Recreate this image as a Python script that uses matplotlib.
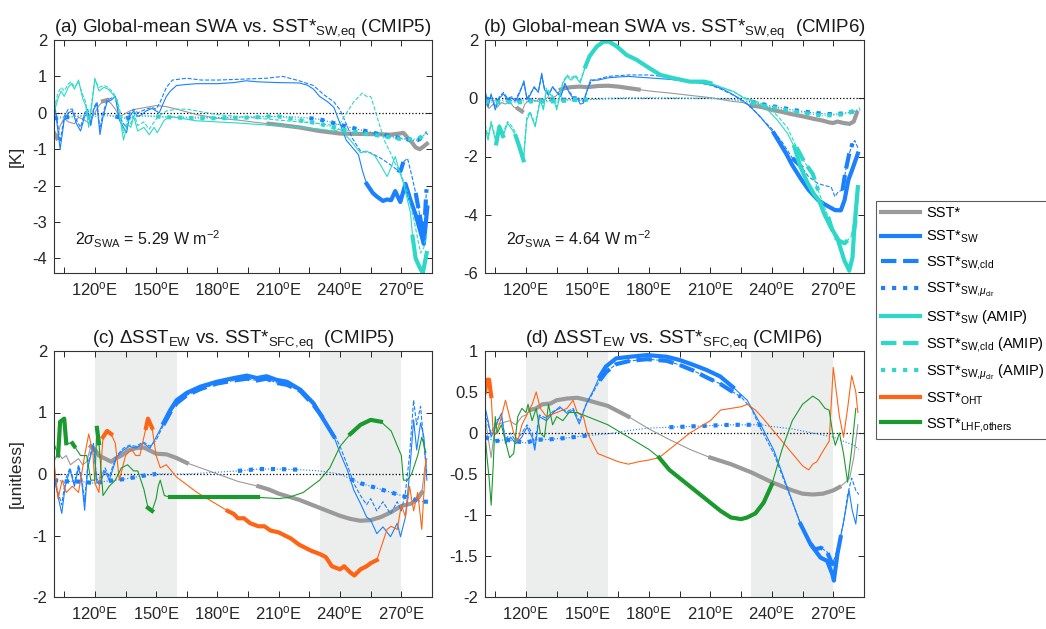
import numpy as np
import matplotlib
matplotlib.use('Agg')
import matplotlib.pyplot as plt
from matplotlib.lines import Line2D

plt.rcParams['font.family'] = ['Liberation Sans', 'DejaVu Sans']
plt.rcParams['mathtext.fontset'] = 'custom'
plt.rcParams['mathtext.rm'] = 'Liberation Sans'
plt.rcParams['mathtext.it'] = 'Liberation Sans:italic'
plt.rcParams['mathtext.default'] = 'regular'

# ---------------- data (lon [deg E], value) ----------------
# panel (a): global-mean SWA regression, CMIP5  [K]
A_SST = [(100,-0.55),(101.5,-0.7),(103,-0.35),(105,-0.15),(107,-0.25),(110,-0.3),(112,-0.12),(115,-0.2),
         (117,-0.28),(120,0.0),(122,0.2),(124,0.32),(126,0.35),(128,0.25),(130,0.1),(132,-0.1),(134,-0.05),
         (137,0.05),(140,0.1),(145,0.15),(150,0.2),(155,0.17),(160,0.1),(170,-0.05),(180,-0.15),(190,-0.2),
         (200,-0.27),(205,-0.3),(210,-0.33),(220,-0.4),(230,-0.5),(240,-0.57),(250,-0.58),(260,-0.59),
         (265,-0.6),(269,-0.57),(271,-0.55),(273,-0.68),(275,-0.8),(277,-0.95),(279,-1.0),(281,-0.92),(282.5,-0.85)]
A_SW = [(100,0.4),(101.5,-0.3),(103,-1.0),(105,-0.2),(107,0.0),(109,0.05),(111,-0.3),(113,-0.5),(115,-0.1),
        (116.5,0.0),(118,-0.35),(119.5,0.1),(121,0.25),(122.5,-0.6),(124,-0.1),(126,0.3),(128,0.35),(130,0.45),
        (132,-0.2),(134,-0.4),(135.5,-0.55),(137,-0.1),(139,0.05),(141,-0.1),(143,-0.05),(145,0.05),(148,0.12),
        (150,0.05),(151.5,0.0),(153,0.2),(155,0.45),(157,0.6),(160,0.75),(165,0.78),(170,0.8),(180,0.8),
        (188,0.83),(194,0.88),(200,0.85),(210,0.83),(220,0.82),(224,0.76),(227,0.65),(230,0.45),(234,0.3),
        (237,0.15),(240,-0.3),(243,-0.75),(246,-0.95),(249,-1.15),(251,-1.6),(253,-1.95),(256,-2.2),(258,-2.3),
        (261,-2.42),(263,-2.38),(265,-2.4),(267,-2.15),(269.5,-2.45),(272,-1.95),(274.5,-2.4),(277,-2.8),
        (279.5,-3.3),(281,-3.6),(282.7,-2.6)]
A_CLD = [(100,0.3),(101.5,-0.2),(103,-0.8),(105,-0.1),(107,0.1),(109,0.1),(111,-0.2),(113,-0.4),(115,0.0),
         (116.5,0.1),(118,-0.25),(119.5,0.15),(121,0.3),(122.5,-0.45),(124,0.0),(126,0.35),(128,0.4),(130,0.45),
         (132,-0.1),(134,-0.3),(135.5,-0.4),(137,0.0),(139,0.1),(141,0.0),(143,0.05),(145,0.1),(148,0.15),
         (150,0.1),(152,0.3),(155,0.7),(158,0.9),(165,0.95),(172,0.9),(180,0.9),(190,0.92),(204,0.95),(212,1.0),
         (220,0.88),(227,0.75),(232,0.5),(237,0.3),(240,0.08),(243,-0.3),(246,-0.7),(250,-1.05),(255,-1.1),
         (260,-1.25),(264,-1.4),(268,-1.57),(269.6,-1.6),(271,-1.35),(273,-1.25),(275,-1.7),(277,-2.2),
         (279.4,-2.94),(281,-3.4),(282.3,-2.1)]
A_CLR = [(100,-0.15),(105,-0.13),(110,-0.1),(115,-0.08),(120,-0.05),(125,-0.05),(130,-0.1),(135,-0.15),
         (140,-0.1),(145,-0.08),(150,-0.1),(160,-0.12),(170,-0.12),(180,-0.13),(190,-0.12),(200,-0.1),
         (210,-0.1),(220,-0.12),(225,-0.15),(230,-0.18),(235,-0.25),(240,-0.33),(245,-0.4),(250,-0.47),
         (255,-0.53),(260,-0.6),(265,-0.65),(270,-0.7),(275,-0.75),(278,-0.75),(280,-0.68),(282.5,-0.55)]
A_SW_AMIP = [(100,0.0),(102,0.4),(103.5,0.6),(105,0.45),(107,0.7),(108.5,0.8),(110,0.65),(112,0.9),(114,0.4),
             (115.5,0.2),(117,-0.4),(118.5,0.2),(120,0.95),(122,0.6),(124.5,0.7),(126.5,0.65),(129,0.5),
             (131,0.3),(132.5,-0.2),(134,-0.75),(136,-0.3),(137.6,-0.4),(139,-0.1),(141,-0.5),(144,-0.4),
             (146.6,-0.6),(149,-0.4),(150.5,-0.55),(152,-0.4),(154,-0.2),(157,-0.1),(162,-0.15),(170,-0.22),
             (180,-0.25),(190,-0.28),(200,-0.32),(210,-0.35),(220,-0.4),(230,-0.45),(237,-0.5),(240,-0.45),
             (245,-0.75),(250,-1.1),(253,-1.05),(257,-1.18),(260,-1.45),(263,-1.75),(265,-1.5),(267,-1.2),
             (269,-1.6),(271,-1.93),(273,-2.4),(274.5,-2.75),(275.5,-3.4),(277,-4.0),(279,-4.25),(280.5,-4.4),
             (282.4,-3.85)]
A_CLD_AMIP = [(100,0.1),(102,0.55),(103.5,0.7),(105,0.6),(107,0.8),(108.5,0.85),(110,0.7),(112,0.85),(114,0.5),
              (115.5,0.3),(117,-0.2),(118.5,0.3),(120,0.9),(122,0.7),(124.5,0.75),(126.5,0.7),(129,0.55),
              (131,0.35),(132.5,0.0),(134,-0.55),(136,-0.2),(137.6,-0.3),(139,0.0),(141,-0.35),(144,-0.25),
              (146.6,-0.45),(149,-0.25),(151,-0.1),(155,0.05),(160,0.1),(165,0.1),(170,0.05),(180,-0.05),
              (190,-0.1),(200,-0.15),(210,-0.2),(220,-0.25),(230,-0.3),(237,-0.35),(240,-0.3),(242,-0.1),
              (246.7,0.3),(250.8,0.54),(253,0.45),(255,0.45),(257,0.1),(259,-0.28),(262,-0.8),(264.7,-1.1),
              (267,-1.4),(270,-1.7),(273,-2.2),(276,-2.9),(279.4,-3.85),(281,-3.7),(282.5,-3.3)]
A_CLR_AMIP = [(100,-0.1),(105,-0.12),(110,-0.1),(115,-0.08),(120,-0.1),(125,-0.08),(130,-0.1),(135,-0.12),
              (140,-0.1),(145,-0.1),(150,-0.1),(155,-0.12),(160,-0.13),(170,-0.15),(180,-0.15),(190,-0.14),
              (200,-0.12),(205,-0.1),(210,-0.1),(215,-0.15),(220,-0.2),(225,-0.25),(230,-0.3),(235,-0.38),
              (240,-0.45),(245,-0.5),(250,-0.55),(255,-0.6),(260,-0.63),(265,-0.68),(270,-0.72),(275,-0.73),
              (278,-0.72),(280,-0.65),(282.5,-0.5)]

# panel (b): global-mean SWA regression, CMIP6  [K]
B_SST = [(100,-0.15),(102,-0.35),(104,-0.2),(106,-0.3),(108,-0.15),(110,-0.2),(112,-0.1),(114,-0.3),(116,-0.35),
         (118,-0.45),(119.5,-0.2),(121,-0.1),(123,-0.05),(125,-0.1),(127,0.0),(129,-0.05),(131,0.05),(133,0.0),
         (135,0.1),(137,0.3),(139,0.35),(142,0.38),(146,0.4),(150,0.38),(155,0.42),(160,0.43),(165,0.4),
         (170,0.35),(175,0.3),(180,0.25),(190,0.18),(200,0.1),(210,0.02),(220,-0.1),(226,-0.15),(230,-0.25),
         (235,-0.3),(240,-0.4),(245,-0.47),(250,-0.55),(255,-0.62),(260,-0.7),(265,-0.77),(268,-0.83),
         (270,-0.85),(272,-0.8),(275,-0.85),(278,-0.88),(280,-0.8),(281.5,-0.5)]
B_SW = [(100,0.3),(101.5,-0.3),(103,0.15),(105,-0.4),(107,0.0),(109,0.15),(111,-0.05),(113,0.0),(115,-0.1),
        (117,0.2),(119,0.6),(120.5,-0.05),(122,0.1),(124,0.4),(126,0.2),(127.7,0.86),(129,0.3),(131,0.1),
        (133,0.4),(135,0.2),(137,0.05),(139,0.52),(141,0.2),(143,0.0),(145,0.0),(146.5,-0.2),(148,-0.17),
        (150,0.3),(151.5,0.63),(155,0.62),(160,0.7),(165,0.73),(170,0.75),(180,0.7),(190,0.65),(200,0.57),
        (210,0.47),(215,0.35),(220,0.17),(224,0.0),(228,-0.2),(231,-0.4),(234.6,-0.65),(238,-0.95),(241,-1.2),
        (244,-1.55),(247,-1.9),(250,-2.3),(254.5,-2.8),(258,-3.15),(262.6,-3.5),(266,-3.65),(270.8,-3.84),
        (273.7,-3.85),(275.5,-3.5),(277.4,-2.8),(279,-2.5),(280.5,-2.2),(282,-1.9)]
B_CLD = [(100,0.2),(101.5,-0.2),(103,0.1),(105,-0.3),(107,0.05),(109,0.2),(111,0.0),(113,0.05),(115,-0.05),
         (117,0.25),(119,0.5),(120.5,0.0),(122,0.15),(124,0.35),(126,0.25),(127.7,0.75),(129,0.35),(131,0.15),
         (133,0.35),(135,0.25),(137,0.1),(139,0.45),(141,0.25),(143,0.05),(145,0.05),(146.5,-0.1),(148,-0.1),
         (150,0.3),(152,0.6),(155,0.65),(160,0.75),(170,0.8),(180,0.8),(190,0.72),(200,0.6),(210,0.45),
         (215,0.32),(220,0.15),(225,-0.05),(230,-0.3),(235,-0.7),(240,-1.05),(245,-1.5),(250,-2.05),(255,-2.4),
         (258,-2.7),(262.6,-2.93),(266,-3.0),(269,-3.05),(270.8,-3.38),(272.5,-3.2),(274.5,-3.16),(276,-2.5),
         (277.8,-1.9),(279.4,-1.55),(280.5,-1.45),(282,-1.7)]
B_CLR = [(100,0.0),(105,-0.1),(110,-0.05),(115,-0.1),(120,-0.05),(125,-0.1),(130,-0.08),(135,-0.05),(140,-0.05),
         (145,-0.05),(150,-0.05),(160,-0.02),(170,0.0),(180,0.0),(190,0.0),(200,0.0),(210,0.0),(220,-0.03),
         (225,-0.08),(230,-0.12),(235,-0.2),(240,-0.27),(245,-0.33),(250,-0.4),(255,-0.45),(260,-0.5),
         (265,-0.53),(270,-0.55),(275,-0.52),(280,-0.45),(283,-0.4)]
B_SW_AMIP = [(100,-1.0),(101.5,-1.44),(103,-0.86),(105.5,-1.55),(107,-0.98),(108.8,-1.3),(111,-0.86),
             (113.5,-1.1),(115,-1.3),(116.8,-1.67),(118.8,-2.13),(120.4,-0.75),(122,-0.5),(124.5,-0.98),
             (127,-0.06),(128.5,-0.4),(130,0.29),(133.4,0.0),(135,-0.4),(138,0.52),(140,0.75),(142,0.62),
             (144,0.75),(146.5,0.52),(149,1.09),(151,1.44),(154.6,1.78),(158,1.95),(160.4,1.95),(164.4,1.78),
             (169,1.49),(174,1.32),(179,1.09),(185.6,0.8),(192,0.69),(200,0.57),(207,0.57),(210,0.52),
             (216.6,0.34),(221.5,0.23),(226.4,0.0),(233,-0.17),(238,-0.4),(242.7,-0.75),(247.6,-1.2),(251,-1.67),
             (254,-2.36),(257.4,-2.9),(260.7,-3.3),(263,-3.5),(265.6,-3.97),(268.8,-4.43),(272,-4.8),
             (275.4,-5.57),(277.8,-5.92),(279.4,-5.46),(280.3,-4.43),(282,-3.05)]
B_CLD_AMIP = [(100,-0.9),(101.5,-1.3),(103,-0.8),(105.5,-1.45),(107,-0.9),(108.8,-1.2),(111,-0.8),(113.5,-1.0),
              (115,-1.2),(116.8,-1.55),(118.8,-2.0),(120.4,-0.65),(122,-0.45),(124.5,-0.9),(127,0.0),
              (128.5,-0.3),(130,0.35),(133.4,0.05),(135,-0.3),(138,0.55),(140,0.8),(142,0.68),(144,0.8),
              (146.5,0.6),(149,1.1),(151,1.4),(154.6,1.72),(158,1.9),(160.4,1.9),(164.4,1.72),(169,1.45),
              (174,1.28),(179,1.05),(185.6,0.8),(192,0.7),(200,0.58),(207,0.55),(210,0.5),(216.6,0.35),
              (221.5,0.22),(226.4,0.02),(233,-0.12),(238,-0.3),(242.7,-0.6),(247.6,-1.0),(252,-1.68),(256,-2.2),
              (260,-2.6),(262.6,-3.16),(265,-3.6),(267.5,-4.07),(270.6,-4.76),(273,-4.9),(275.6,-4.98),
              (278,-4.8),(279.8,-4.65),(281.5,-3.96),(282.5,-3.0)]
B_CLR_AMIP = [(100,-0.1),(105,-0.15),(110,-0.12),(115,-0.15),(120,-0.12),(125,-0.1),(130,-0.12),(135,-0.1),
              (140,-0.08),(145,-0.05),(150,-0.05),(160,0.0),(170,0.02),(180,0.02),(190,0.02),(200,0.0),
              (210,0.0),(220,-0.05),(225,-0.1),(230,-0.15),(235,-0.25),(240,-0.3),(245,-0.38),(250,-0.45),
              (255,-0.5),(260,-0.55),(265,-0.6),(270,-0.58),(275,-0.55),(280,-0.45),(283,-0.35)]

# panel (c): Delta SST_EW regression, CMIP5  [unitless]
C_SST = [(100,0.2),(102,0.35),(104,0.25),(106,0.3),(108,0.15),(110,0.2),(112,0.25),(114,0.15),(116,0.2),
         (118,0.45),(120,0.4),(122,0.3),(125,0.25),(128,0.2),(130,0.25),(133,0.3),(136,0.38),(140,0.42),
         (144,0.43),(147,0.38),(150,0.33),(155,0.32),(160,0.26),(165,0.18),(170,0.12),(180,0.0),(190,-0.12),
         (200,-0.2),(205,-0.25),(210,-0.32),(220,-0.42),(230,-0.55),(240,-0.68),(245,-0.73),(250,-0.76),
         (255,-0.75),(260,-0.7),(265,-0.62),(270,-0.52),(275,-0.48),(278,-0.4),(280,-0.3),(281.5,0.1),(282.5,0.25)]
C_SW = [(100,-0.04),(102,-0.37),(103.8,-0.64),(105.5,-0.2),(107.8,0.07),(110,-0.2),(112,0.1),(113.5,-0.1),
        (115,-0.59),(116.5,0.1),(118,0.3),(119.3,0.5),(121,-0.15),(123,-0.1),(125,0.05),(127,-0.1),(129,0.1),
        (130.7,0.28),(134,0.39),(137,0.45),(140,0.42),(143.8,0.5),(147,0.42),(150,0.6),(153.6,0.83),
        (156.9,1.04),(160,1.2),(165,1.32),(171.6,1.42),(179.7,1.5),(188,1.56),(194.4,1.6),(199.3,1.56),
        (204,1.59),(209,1.53),(214,1.5),(220.6,1.37),(227,1.15),(232,0.88),(237,0.61),(240,0.34),(243.5,0.07),
        (246.7,-0.26),(250,-0.48),(253,-0.7),(255,-0.75),(258,-0.97),(261,-0.86),(264.7,-1.02),(268,-0.8),
        (269.6,-1.02),(272,-0.7),(274,0.0),(276,0.88),(277.5,0.39),(279.4,0.83),(281,0.61),(282.5,-0.1)]
C_CLD = [(100,-0.1),(102,-0.3),(103.8,-0.5),(105.5,-0.1),(107.8,0.1),(110,-0.15),(112,0.15),(113.5,-0.05),
         (115,-0.45),(116.5,0.15),(118,0.35),(119.3,0.45),(121,-0.1),(123,-0.05),(125,0.1),(127,-0.05),(129,0.15),
         (130.7,0.3),(134,0.42),(137,0.47),(140,0.45),(143.8,0.52),(147,0.45),(150,0.55),(153.6,0.8),
         (156.9,1.0),(160,1.15),(165,1.28),(171.6,1.38),(179.7,1.47),(188,1.52),(194.4,1.55),(199.3,1.52),
         (204,1.55),(209,1.48),(214,1.45),(220.6,1.35),(227,1.12),(232,0.9),(237,0.65),(240,0.45),(243.5,0.15),
         (246.7,-0.15),(250,-0.35),(253,-0.5),(255,-0.4),(258,-0.6),(261,-0.45),(264.7,-0.65),(268,-0.45),
         (270,-0.6),(272,-0.3),(274,0.3),(276,1.2),(277.5,0.8),(279.4,1.1),(281,0.5),(282.5,0.0)]
C_CLR = [(100,-0.1),(105,-0.12),(110,-0.12),(115,-0.13),(120,-0.15),(125,-0.12),(130,-0.1),(135,-0.08),
         (140,-0.05),(145,-0.02),(150,0.0),(165,0.0),(180,0.03),(190,0.05),(200,0.08),(210,0.08),(220,0.07),
         (230,0.05),(240,0.0),(245,-0.08),(250,-0.15),(260,-0.25),(270,-0.35),(280,-0.45),(283,-0.45)]
C_OHT = [(100,0.2),(102,-0.4),(104,-0.1),(106,-0.3),(109,-0.2),(112,-0.3),(115,0.3),(117,0.65),(119,0.35),
         (120,-0.15),(122,-0.3),(124,0.6),(126,0.7),(128,0.65),(130,0.5),(132,-0.1),(135,0.3),(138,0.4),
         (140,0.3),(142,0.3),(145,0.75),(146,0.9),(148,0.75),(150,0.3),(152,0.1),(155,0.15),(160,-0.05),
         (170,-0.3),(180,-0.5),(185,-0.6),(188,-0.65),(190,-0.72),(193,-0.72),(196,-0.8),(200,-0.85),(203,-0.85),
         (206,-0.92),(210,-0.95),(213,-1.0),(216,-1.05),(220,-1.15),(223,-1.2),(226,-1.25),(230,-1.3),
         (233,-1.35),(236,-1.5),(240,-1.55),(242,-1.5),(245,-1.6),(247,-1.65),(250,-1.55),(253,-1.5),
         (255,-1.45),(258,-1.4),(260,-1.2),(263,-0.9),(265,-0.85),(268,-0.9),(270,-0.5),(272,-0.7),(274,-0.2),
         (276,-0.6),(278,-0.3),(280,-0.9),(282,0.25)]
C_LHF = [(100,0.5),(102,0.3),(103,0.85),(105,0.9),(106,0.5),(109,0.5),(110,0.45),(113,0.3),(116,0.3),(118,-0.1),
         (120,-0.1),(121,0.75),(122,0.5),(124,-0.35),(127,-0.2),(130,-0.1),(133,0.1),(136,0.15),(139,0.05),
         (141,0.05),(144,-0.25),(146,-0.55),(148,-0.6),(150,-0.4),(151,-0.2),(152,-0.1),(154,-0.35),(157,-0.38),
         (165,-0.38),(180,-0.38),(200,-0.38),(210,-0.4),(215,-0.38),(222,-0.3),(230,-0.1),(235,0.1),(240,0.45),
         (245,0.65),(250,0.8),(255,0.88),(260,0.85),(265,0.7),(270,0.3),(271,-0.1),(273,-0.1),(275,0.0),
         (278,0.3),(280,0.6),(282,0.35)]

# panel (d): Delta SST_EW regression, CMIP6  [unitless]
D_SST = [(100,0.2),(103,-0.3),(105,0.1),(108,0.12),(112,0.15),(115,0.1),(118,0.2),(120,0.22),(122,0.28),
         (125,0.3),(128,0.35),(132,0.36),(135,0.4),(140,0.42),(145,0.43),(150,0.4),(160,0.33),(170,0.2),
         (180,0.05),(190,-0.08),(200,-0.2),(210,-0.3),(220,-0.38),(230,-0.48),(240,-0.6),(250,-0.7),
         (255,-0.74),(260,-0.75),(265,-0.74),(270,-0.7),(273,-0.66),(276,-0.6),(278,-0.55),(280,-0.3),(282,0.1)]
D_SW = [(100,0.32),(101.5,0.15),(103,-0.05),(105.5,0.1),(108,0.24),(110,-0.13),(112.5,-0.05),(115,-0.13),
        (118,-0.05),(120.5,0.07),(123,-0.05),(124.3,-0.21),(126.5,0.2),(130,0.15),(133,0.24),(136.5,0.32),
        (140,0.24),(143,0.28),(146,0.11),(149.5,0.36),(152.9,0.52),(156,0.69),(159,0.81),(164,0.91),
        (170.8,0.93),(179,0.95),(188.7,0.93),(195,0.89),(201.8,0.83),(208,0.77),(214.8,0.69),(221,0.56),
        (228,0.4),(234.4,0.11),(241,-0.21),(247.5,-0.66),(254,-1.11),(259,-1.36),(263.8,-1.52),(267,-1.56),
        (269.5,-1.72),(270.3,-1.8),(272,-1.48),(273.6,-1.27),(276,-0.95),(277.7,-0.7),(279.3,-0.95),
        (281,-1.11),(282,-0.87)]
D_CLD = [(100,0.25),(101.5,0.1),(103,0.0),(105.5,0.15),(108,0.2),(110,-0.08),(112.5,0.0),(115,-0.1),(118,0.0),
         (120.5,0.1),(123,0.0),(124.3,-0.15),(126.5,0.22),(130,0.18),(133,0.26),(136.5,0.3),(140,0.26),
         (143,0.3),(146,0.15),(149.5,0.35),(152.9,0.5),(156,0.64),(159,0.74),(164,0.84),(170.8,0.88),(179,0.9),
         (188.7,0.88),(195,0.83),(201.8,0.76),(208,0.68),(214.8,0.6),(221,0.5),(225,0.44),(230,0.3),(234.4,0.06),
         (241,-0.25),(247.5,-0.68),(254,-1.1),(259,-1.35),(261,-1.42),(264,-1.4),(267,-1.45),(269.5,-1.6),
         (271,-1.5),(273,-1.3),(275,-1.1),(277,-0.75),(279,-0.55),(281,-0.7),(282.5,-0.75)]
D_CLR = [(100,-0.05),(105,-0.1),(110,-0.08),(115,-0.1),(120,-0.12),(125,-0.08),(130,-0.08),(140,-0.06),
         (150,-0.03),(160,-0.01),(170,0.03),(180,0.06),(190,0.07),(200,0.08),(210,0.09),(220,0.1),(230,0.1),
         (235,0.1),(240,0.08),(250,0.05),(260,0.0),(270,-0.05),(275,-0.1),(280,-0.15),(282.5,-0.2)]
D_OHT = [(100,0.5),(101,0.65),(102,0.65),(103,0.45),(104,0.0),(105,-0.02),(107,0.1),(110,0.4),(112,0.2),
         (114,0.0),(116,-0.1),(118,0.1),(120,0.2),(123,0.35),(125,0.5),(127,0.3),(130,0.2),(135,0.25),(140,0.3),
         (143,0.4),(145,0.25),(148,0.2),(150,0.0),(155,-0.25),(160,-0.3),(165,-0.35),(170,-0.38),(175,-0.35),
         (180,-0.33),(185,-0.3),(190,-0.2),(200,0.0),(210,0.15),(215,0.28),(220,0.3),(225,0.32),(228,0.35),
         (232,0.28),(235,0.2),(240,0.05),(245,-0.1),(250,-0.25),(255,-0.4),(258,-0.45),(260,-0.38),(262,-0.35),
         (265,-0.22),(268,-0.1),(270,0.8),(271,0.6),(273,0.2),(275,-0.05),(277,0.3),(279,0.7),(281,0.5),(282,0.25)]
D_LHF = [(100,0.0),(101,-0.3),(102,-0.55),(103,-0.88),(104,-0.4),(105,0.2),(106,0.0),(108,0.1),(110,-0.1),
         (112,-0.3),(114,-0.25),(116,0.2),(118,0.3),(120,0.25),(121,0.35),(123,0.15),(125,0.3),(127,0.0),
         (129,-0.05),(131,0.35),(133,0.1),(135,0.2),(138,0.15),(141,0.25),(145,0.25),(150,0.2),(155,0.15),
         (160,0.1),(170,-0.05),(180,-0.2),(185,-0.3),(190,-0.45),(200,-0.65),(210,-0.85),(215,-0.95),(220,-1.03),
         (225,-1.05),(228,-1.03),(232,-0.98),(236,-0.85),(240,-0.63),(245,-0.2),(250,0.15),(255,0.35),(260,0.45),
         (263,0.4),(266,0.3),(268,0.28),(270,-0.05),(271,-0.15),(273,0.0),(275,-0.25),(277,-0.6),(279,-0.2),(281,0.3)]

# longitude ranges where each regression is significant (drawn thick)
SIG = {
    'A_SST': [(100, 102), (123, 127), (205, 283)], 'A_SW': [(252, 283)], 'A_CLD': [(266, 271), (277, 282.3)],
    'A_CLR': [(100, 112), (130, 140), (225, 283)], 'A_SW_AMIP': [(275, 283)], 'A_CLD_AMIP': [],
    'A_CLR_AMIP': [(150, 283)],
    'B_SST': [(116, 119), (137, 175), (230, 282)], 'B_SW': [(240, 282)], 'B_CLD': [(250, 256), (274.5, 280)],
    'B_CLR': [(100, 150), (226, 283)], 'B_SW_AMIP': [(105, 109), (115, 119), (148, 215), (248, 283)],
    'B_CLD_AMIP': [(252, 264), (267, 281.5)], 'B_CLR_AMIP': [(100, 150), (226, 283)],
    'C_SST': [(118, 165), (200, 280)], 'C_SW': [(152, 238)], 'C_CLD': [(152, 236)],
    'C_CLR': [(100, 150), (190, 228), (245, 283)], 'C_OHT': [(124, 128), (145, 148), (185, 258)],
    'C_LHF': [(102, 106), (109, 110), (121, 122), (145, 149), (155, 202), (245, 262)],
    'D_SST': [(121, 170), (205, 275)], 'D_SW': [(156, 225), (250, 275)], 'D_CLD': [(156, 225), (259, 272)],
    'D_CLR': [(100, 150), (185, 238)], 'D_OHT': [(100, 103)], 'D_LHF': [(185, 240)],
}

SHADE = [(120, 160), (230, 270)]
SIGMA_SWA = ['5.29', '4.64']

GREY, BLUE, CYAN, ORANGE, GREEN = '#9a9a9a', '#1a80ff', '#2ed8c8', '#ff6414', '#1a9a2e'
THIN, THICK = 0.8, 3.0


def draw(ax, name, pts, color, ls):
    lon, val = np.array(pts).T
    ax.plot(lon, val, color=color, ls=ls, lw=THIN)
    for a, b in SIG[name]:
        m = (lon >= a) & (lon <= b)
        ax.plot(lon[m], val[m], color=color, ls=ls, lw=THICK)


def style(ax, ylim, yticks, ylabels):
    ax.set_xlim(100, 285)
    ax.set_ylim(*ylim)
    xt = np.arange(105, 285, 15)
    ax.set_xticks(xt)
    ax.set_xticklabels([r'%d$^{\rm o}$E' % t if t % 30 == 0 else '' for t in xt])
    ax.set_yticks(yticks)
    ax.set_yticklabels(ylabels)
    ax.tick_params(direction='in', top=True, right=True, length=4, width=0.7,
                   labelsize=12, colors='#262626', pad=5)
    for s in ax.spines.values():
        s.set_color('#333333')
        s.set_linewidth(0.8)
    ax.axhline(0, color='k', ls=':', lw=0.9, zorder=1)


fig = plt.figure(figsize=(10.46, 6.29), dpi=100)
W, H = 1046, 629
ax_a = fig.add_axes([54 / W, 1 - 273 / H, 378 / W, 233 / H])
ax_b = fig.add_axes([485 / W, 1 - 273 / H, 379 / W, 233 / H])
ax_c = fig.add_axes([54 / W, 1 - 597 / H, 378 / W, 246 / H])
ax_d = fig.add_axes([485 / W, 1 - 597 / H, 379 / W, 246 / H])

# top row
for ax, p, data, sig in [(ax_a, 'A', [A_SST, A_SW, A_CLD, A_CLR, A_SW_AMIP, A_CLD_AMIP, A_CLR_AMIP], SIGMA_SWA[0]),
                         (ax_b, 'B', [B_SST, B_SW, B_CLD, B_CLR, B_SW_AMIP, B_CLD_AMIP, B_CLR_AMIP], SIGMA_SWA[1])]:
    names = ['SST', 'SW', 'CLD', 'CLR', 'SW_AMIP', 'CLD_AMIP', 'CLR_AMIP']
    styles = [(GREY, '-'), (BLUE, '-'), (BLUE, '--'), (BLUE, ':'), (CYAN, '-'), (CYAN, '--'), (CYAN, ':')]
    for nm, d, (c, ls) in zip(names, data, styles):
        draw(ax, p + '_' + nm, d, c, ls)
    ax.text(0.055, 0.12, r'2$\it{\sigma}_{\rm SWA}$ = ' + sig + r' W m$^{-2}$', transform=ax.transAxes,
            fontsize=11.5, color='#1a1a1a')

style(ax_a, (-4.4, 2), np.arange(-4, 3, 1), ['-4', '-3', '-2', '-1', '0', '1', '2'])
style(ax_b, (-6, 2), np.arange(-6, 3, 2), ['-6', '-4', '-2', '0', '2'])
ax_a.set_ylabel('[K]', fontsize=12.5, color='#262626', labelpad=6)

# bottom row
for ax, p, data in [(ax_c, 'C', [C_SST, C_SW, C_CLD, C_CLR, C_OHT, C_LHF]),
                    (ax_d, 'D', [D_SST, D_SW, D_CLD, D_CLR, D_OHT, D_LHF])]:
    for a, b in SHADE:
        ax.axvspan(a, b, color='#eceeed', lw=0, zorder=0)
    names = ['SST', 'SW', 'CLD', 'CLR', 'OHT', 'LHF']
    styles = [(GREY, '-'), (BLUE, '-'), (BLUE, '--'), (BLUE, ':'), (ORANGE, '-'), (GREEN, '-')]
    for nm, d, (c, ls) in zip(names, data, styles):
        draw(ax, p + '_' + nm, d, c, ls)

style(ax_c, (-2, 2), np.arange(-2, 3, 1), ['-2', '-1', '0', '1', '2'])
style(ax_d, (-2, 1), np.arange(-2, 1.01, 0.5), ['-2', '-1.5', '-1', '-0.5', '0', '0.5', '1'])
ax_c.set_ylabel('[unitless]', fontsize=12.5, color='#262626', labelpad=6)

tkw = dict(fontsize=13.5, color='#1a1a1a', pad=5)
ax_a.set_title('(a) Global-mean SWA vs. SST*$_{\\rm SW{,}eq}$ (CMIP5)', **tkw)
ax_b.set_title('(b) Global-mean SWA vs. SST*$_{\\rm SW{,}eq}$  (CMIP6)', **tkw)
ax_c.set_title('(c) $\\Delta$SST$_{\\rm EW}$ vs. SST*$_{\\rm SFC{,}eq}$  (CMIP5)', **tkw)
ax_d.set_title('(d) $\\Delta$SST$_{\\rm EW}$ vs. SST*$_{\\rm SFC{,}eq}$ (CMIP6)', **tkw)

# legend
leg_items = [(GREY, '-', 'SST*'), (BLUE, '-', 'SST*$_{\\rm SW}$'), (BLUE, '--', 'SST*$_{\\rm SW{,}cld}$'),
             (BLUE, ':', 'SST*$_{{\\rm SW{,}}\\it{\\mu}_{\\rm clr}}$'), (CYAN, '-', 'SST*$_{\\rm SW}$ (AMIP)'),
             (CYAN, '--', 'SST*$_{\\rm SW{,}cld}$ (AMIP)'),
             (CYAN, ':', 'SST*$_{{\\rm SW{,}}\\it{\\mu}_{\\rm clr}}$ (AMIP)'),
             (ORANGE, '-', 'SST*$_{\\rm OHT}$'), (GREEN, '-', 'SST*$_{\\rm LHF{,}others}$')]
handles = [Line2D([], [], color=c, ls=ls, lw=3.0) for c, ls, _ in leg_items]
leg = fig.legend(handles, [l for _, _, l in leg_items], loc='upper left',
                 bbox_to_anchor=(876 / W, 1 - 201 / H), fontsize=10.5, frameon=True, fancybox=False,
                 edgecolor='#333333', handlelength=2.7, handletextpad=0.4, labelspacing=0.6,
                 borderpad=0.35, borderaxespad=0)
leg.get_frame().set_linewidth(0.8)

fig.savefig('out.png', dpi=100)
